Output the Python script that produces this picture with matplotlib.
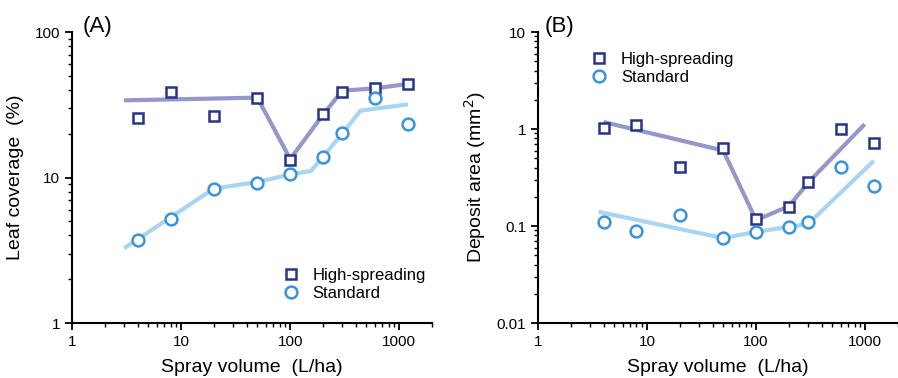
import numpy as np
import matplotlib.pyplot as plt
from matplotlib.ticker import LogLocator, FixedLocator, NullFormatter

plt.rcParams['font.family'] = ['Liberation Sans', 'DejaVu Sans']

volume = [4, 8, 20, 50, 100, 200, 300, 600, 1200]

# panel A: leaf coverage (%)
cov_high = [25.5, 39, 26.5, 35.4, 13.2, 27.2, 39, 41.2, 44]
cov_std = [3.7, 5.2, 8.4, 9.2, 10.5, 13.9, 20.2, 35.2, 23.3]
cov_high_fit_x = [3, 50, 100, 200, 300, 600, 1200]
cov_high_fit_y = [33.9, 35.4, 13.4, 27, 39.5, 41, 44]
cov_std_fit_x = [3, 20, 50, 100, 155, 300, 440, 1200]
cov_std_fit_y = [3.26, 8.4, 9.3, 10.5, 11.1, 20, 28.8, 31.8]

# panel B: deposit area (mm2)
dep_high = [1.02, 1.1, 0.405, 0.63, 0.118, 0.158, 0.286, 0.99, 0.71]
dep_std = [0.11, 0.089, 0.13, 0.076, 0.087, 0.098, 0.11, 0.405, 0.258]
dep_high_fit_x = [4, 50, 100, 200, 300, 990]
dep_high_fit_y = [1.18, 0.6, 0.115, 0.16, 0.28, 1.12]
dep_std_fit_x = [3.6, 50, 100, 200, 300, 1200]
dep_std_fit_y = [0.14, 0.075, 0.087, 0.098, 0.105, 0.47]

c_high = '#27348b'
c_high_line = '#9597cb'
c_std = '#3a94dc'
c_std_line = '#a9d5f2'


def draw_panel(ax, high, std, hfx, hfy, sfx, sfy):
    ax.plot(hfx, hfy, '-', color=c_high_line, lw=3, solid_capstyle='butt', zorder=2)
    ax.plot(sfx, sfy, '-', color=c_std_line, lw=3, solid_capstyle='butt', zorder=2)
    ax.plot(volume, high, 's', ms=7.5, mfc='white', mec=c_high, mew=1.8,
            ls='none', label='High-spreading', zorder=3)
    ax.plot(volume, std, 'o', ms=8.5, mfc='white', mec=c_std, mew=1.8,
            ls='none', label='Standard', zorder=3)
    ax.set_xscale('log')
    ax.set_yscale('log')
    ax.set_xlim(1, 2000)
    ax.xaxis.set_major_locator(FixedLocator([1, 10, 100, 1000]))
    ax.xaxis.set_major_formatter(plt.FuncFormatter(lambda v, p: f'{v:g}'))
    ax.xaxis.set_minor_locator(LogLocator(subs=np.arange(2, 10)))
    ax.xaxis.set_minor_formatter(NullFormatter())
    ax.yaxis.set_minor_locator(LogLocator(subs=np.arange(2, 10)))
    ax.yaxis.set_minor_formatter(NullFormatter())
    ax.yaxis.set_major_formatter(plt.FuncFormatter(lambda v, p: f'{v:g}'))
    for s in ['top', 'right']:
        ax.spines[s].set_visible(False)
    for s in ['left', 'bottom']:
        ax.spines[s].set_linewidth(1.5)
    ax.tick_params(which='major', length=5, width=1.3, labelsize=11)
    ax.tick_params(which='minor', length=3, width=1.0)
    ax.set_xlabel('Spray volume  (L/ha)', fontsize=14, labelpad=7)


fig = plt.figure(figsize=(8.98, 3.78), dpi=100)
ax1 = fig.add_axes([0.0802, 0.1455, 0.401, 0.7698])
ax2 = fig.add_axes([0.599, 0.1455, 0.401, 0.7698])

draw_panel(ax1, cov_high, cov_std, cov_high_fit_x, cov_high_fit_y, cov_std_fit_x, cov_std_fit_y)
ax1.set_ylim(1, 100)
ax1.yaxis.set_major_locator(FixedLocator([1, 10, 100]))
ax1.set_ylabel('Leaf coverage  (%)', fontsize=14, labelpad=8)
ax1.legend(loc='lower left', bbox_to_anchor=(0.557, 0.047), frameon=False,
           fontsize=12, handletextpad=0.7, labelspacing=0.2, borderpad=0,
           handlelength=1.2)
fig.text(0.092, 0.915, '(A)', fontsize=16)

draw_panel(ax2, dep_high, dep_std, dep_high_fit_x, dep_high_fit_y, dep_std_fit_x, dep_std_fit_y)
ax2.set_ylim(0.01, 10)
ax2.yaxis.set_major_locator(FixedLocator([0.01, 0.1, 1, 10]))
ax2.set_ylabel('Deposit area (mm$^2$)', fontsize=14, labelpad=6)
ax2.legend(loc='upper left', bbox_to_anchor=(0.12, 0.96), frameon=False,
           fontsize=12, handletextpad=0.7, labelspacing=0.2, borderpad=0,
           handlelength=1.2)
fig.text(0.607, 0.915, '(B)', fontsize=16)

fig.savefig('out.png', dpi=100)
